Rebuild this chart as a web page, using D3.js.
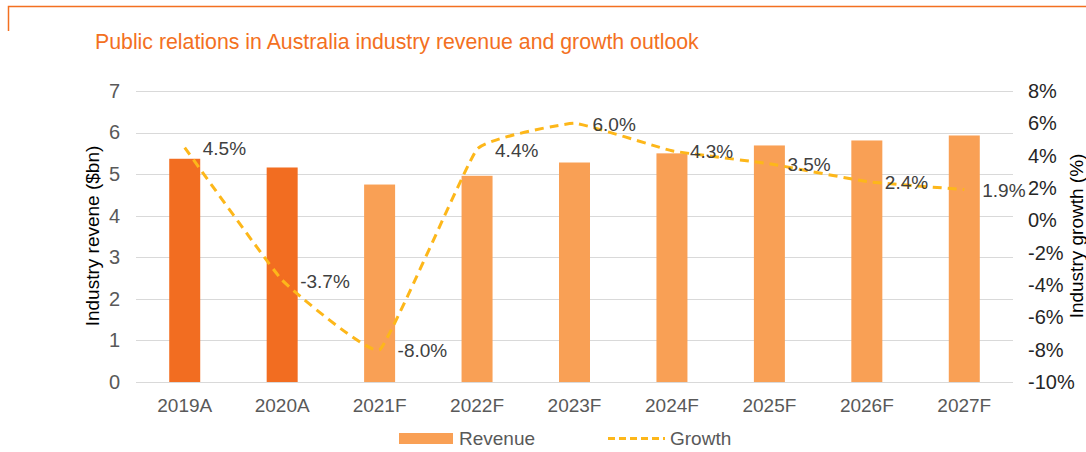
<!DOCTYPE html>
<html>
<head>
<meta charset="utf-8">
<script src="https://cdn.jsdelivr.net/npm/d3@7"></script>
<style>
  body { margin: 0; background: #fff; }
  svg { display: block; font-family: "Liberation Sans", Arial, sans-serif; }
</style>
</head>
<body>
<div id="chart"></div>
<script>
// Chart data
const years = ["2019A", "2020A", "2021F", "2022F", "2023F", "2024F", "2025F", "2026F", "2027F"];
const revenue = [5.37, 5.16, 4.75, 4.96, 5.28, 5.5, 5.69, 5.81, 5.93];
const growth = [4.5, -3.7, -8.0, 4.4, 6.0, 4.3, 3.5, 2.4, 1.9];
const isActual = [true, true, false, false, false, false, false, false, false];
const leftTicks = [0, 1, 2, 3, 4, 5, 6, 7];
const rightTicks = [-10, -8, -6, -4, -2, 0, 2, 4, 6, 8];

const W = 1086, H = 452;
const margin = { left: 136, right: 73, top: 91, bottom: 70 };

// Colours
const ACTUAL = "#F26D21";
const FORECAST = "#F9A055";
const LINE = "#FDB71A";
const ORANGE = "#F37021";
const FONT = "Liberation Sans, Arial, sans-serif";

const svg = d3.select("#chart").append("svg")
    .attr("width", W)
    .attr("height", H);

// Frame decoration (top-left corner line)
svg.append("path")
    .attr("d", "M8.5,31 V6.5 H" + W)
    .attr("fill", "none")
    .attr("stroke", ORANGE)
    .attr("stroke-width", 1.5);

svg.append("text")
    .attr("x", 95)
    .attr("y", 48.5)
    .attr("fill", ORANGE)
    .attr("font-size", 21.3)
    .text("Public relations in Australia industry revenue and growth outlook");

const x = d3.scaleBand()
    .domain(years)
    .range([margin.left, W - margin.right]);

const y = d3.scaleLinear()
    .domain([0, 7])
    .range([H - margin.bottom, margin.top]);

const y2 = d3.scaleLinear()
    .domain([-10, 8])
    .range([H - margin.bottom, margin.top]);

// Gridlines
svg.append("g")
    .selectAll("line")
    .data(leftTicks)
    .enter().append("line")
        .attr("x1", margin.left)
        .attr("x2", W - margin.right)
        .attr("y1", d => Math.round(y(d)) + 0.5)
        .attr("y2", d => Math.round(y(d)) + 0.5)
        .attr("stroke", "#D9D9D9")
        .attr("stroke-width", 1.2);

// Left axis
const leftAxis = svg.append("g")
    .attr("transform", "translate(" + margin.left + ",0)")
    .call(d3.axisLeft(y).tickValues(leftTicks).tickSize(0).tickPadding(16)
        .tickFormat(d3.format("d")));
leftAxis.select(".domain").remove();
leftAxis.selectAll("text")
    .attr("font-size", 20)
    .attr("font-family", FONT)
    .attr("fill", "#595959");

// Right axis
const rightAxis = svg.append("g")
    .attr("transform", "translate(" + (W - margin.right) + ",0)")
    .call(d3.axisRight(y2).tickValues(rightTicks).tickSize(0).tickPadding(15)
        .tickFormat(d => d + "%"));
rightAxis.select(".domain").remove();
rightAxis.selectAll("text")
    .attr("font-size", 20)
    .attr("font-family", FONT)
    .attr("fill", "#262626");

// Bottom axis
const bottomAxis = svg.append("g")
    .attr("transform", "translate(0," + (H - margin.bottom) + ")")
    .call(d3.axisBottom(x).tickSize(0).tickPadding(17));
bottomAxis.select(".domain").remove();
bottomAxis.selectAll("text")
    .attr("font-size", 19)
    .attr("font-family", FONT)
    .attr("fill", "#595959");

// Axis titles
svg.append("text")
    .attr("transform", "translate(99,236) rotate(-90)")
    .attr("text-anchor", "middle")
    .attr("font-size", 19)
    .attr("fill", "#000")
    .text("Industry revene ($bn)");

svg.append("text")
    .attr("transform", "translate(1083,236) rotate(-90)")
    .attr("text-anchor", "middle")
    .attr("font-size", 19)
    .attr("fill", "#000")
    .text("Industry growth (%)");

// Bars
const barW = 31;
svg.append("g")
    .selectAll("rect")
    .data(years)
    .enter().append("rect")
        .attr("x", d => x(d) + x.bandwidth() / 2 - barW / 2)
        .attr("y", (d, i) => y(revenue[i]))
        .attr("width", barW)
        .attr("height", (d, i) => y(0) - y(revenue[i]))
        .attr("fill", (d, i) => isActual[i] ? ACTUAL : FORECAST);

// Growth line (lightly smoothed, dashed)
const line = d3.line()
    .x((d, i) => x(years[i]) + x.bandwidth() / 2)
    .y(d => y2(d))
    .curve(d3.curveCardinal.tension(0.7));

svg.append("path")
    .datum(growth)
    .attr("d", line)
    .attr("fill", "none")
    .attr("stroke", LINE)
    .attr("stroke-width", 3)
    .attr("stroke-dasharray", "9,6");

// Growth labels
svg.append("g")
    .selectAll("text")
    .data(growth)
    .enter().append("text")
        .attr("x", (d, i) => x(years[i]) + x.bandwidth() / 2 + 18)
        .attr("y", d => y2(d) + 1)
        .attr("dy", "0.35em")
        .attr("font-size", 19)
        .attr("fill", "#404040")
        .text(d => d.toFixed(1) + "%");

// Legend
const legend = svg.append("g");
legend.append("rect")
    .attr("x", 399).attr("y", 433)
    .attr("width", 54).attr("height", 11)
    .attr("fill", FORECAST);
legend.append("text")
    .attr("x", 459).attr("y", 438.5)
    .attr("dy", "0.35em")
    .attr("font-size", 19)
    .attr("fill", "#595959")
    .text("Revenue");
legend.append("line")
    .attr("x1", 608).attr("x2", 665)
    .attr("y1", 438.5).attr("y2", 438.5)
    .attr("stroke", LINE)
    .attr("stroke-width", 3)
    .attr("stroke-dasharray", "7,4");
legend.append("text")
    .attr("x", 670).attr("y", 438.5)
    .attr("dy", "0.35em")
    .attr("font-size", 19)
    .attr("fill", "#595959")
    .text("Growth");
</script>
</body>
</html>
